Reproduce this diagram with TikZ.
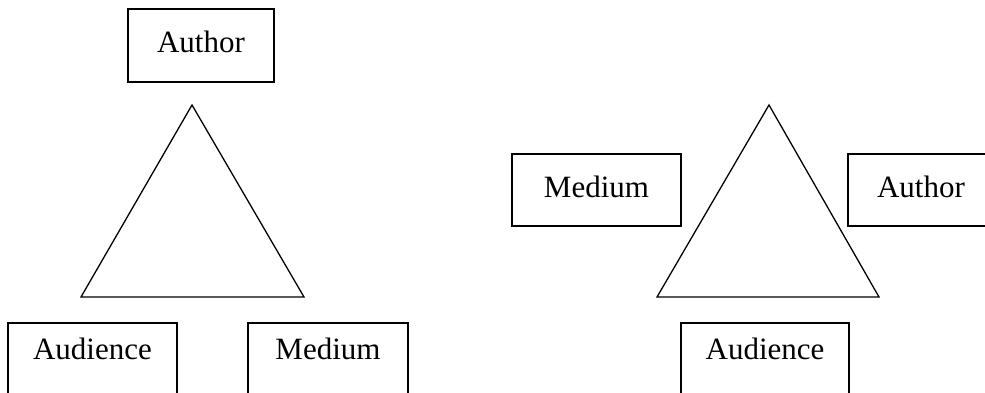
\documentclass[tikz,border=0pt]{standalone}
\usepackage{fontspec}
\setmainfont{Liberation Serif}

\tikzset{
	rolebox/.style={draw, line width=1.6pt, minimum height=73pt, inner sep=0pt,
		font=\fontsize{31}{36}\selectfont, text height=21pt, text depth=7pt},
	lowbox/.style={rolebox, text depth=21pt},
	tri/.style={draw, line width=1.3pt, line join=miter},
}

\begin{document}
\begin{tikzpicture}[x=1pt, y=-1pt]
	\useasboundingbox (0,0) rectangle (985,393);
	\clip (0,0) rectangle (985,393);

	% left: author on top
	\draw[tri] (192,105) coordinate (topA) -- (304,297) coordinate (rightA)
		-- (81,297) coordinate (leftA) -- cycle;
	\node[rolebox, minimum width=146pt] (authorA) at (201,45.5) {Author};
	\node[lowbox, minimum width=169pt, anchor=north] (audienceA) at (92.5,322) {Audience};
	\node[lowbox, minimum width=160pt, anchor=north] (mediumA) at (328,322) {Medium};

	% right: audience at the bottom
	\draw[tri] (769,105) coordinate (topB) -- (879,297) coordinate (rightB)
		-- (657,297) coordinate (leftB) -- cycle;
	\node[rolebox, minimum width=169pt, minimum height=72pt] (mediumB) at (596.5,190) {Medium};
	\node[rolebox, minimum width=146pt, minimum height=72pt] (authorB) at (921,190) {Author};
	\node[lowbox, minimum width=168pt, anchor=north] (audienceB) at (765,322) {Audience};
\end{tikzpicture}
\end{document}
